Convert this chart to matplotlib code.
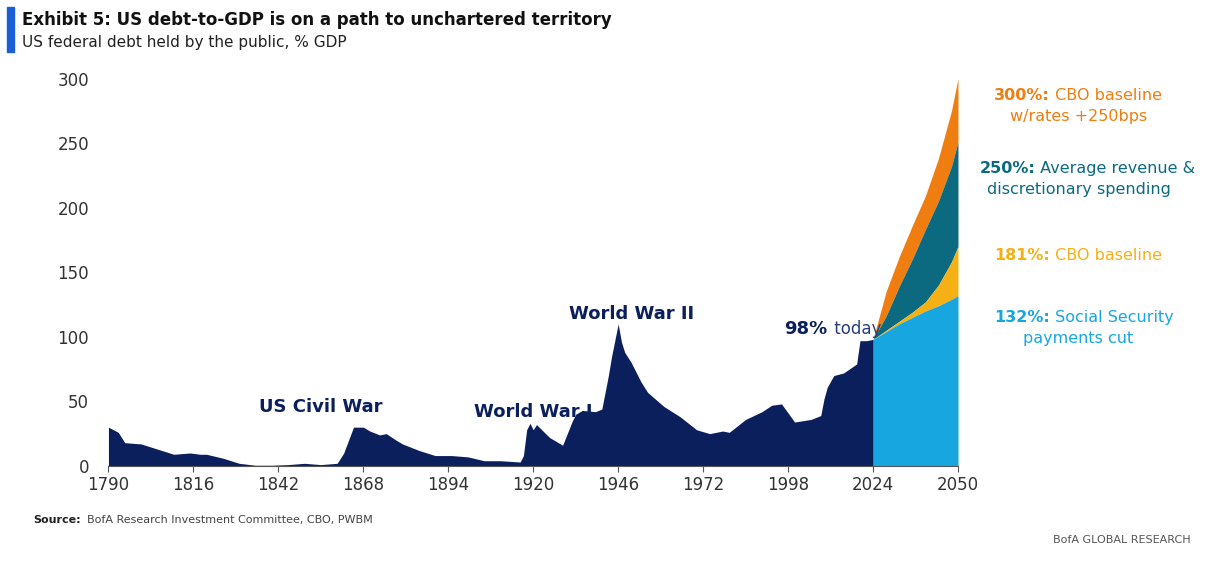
import matplotlib
matplotlib.use("Agg")
import matplotlib.pyplot as plt
import numpy as np

hist_years = [1790,1793,1795,1800,1805,1810,1815,1818,1820,1825,1830,1835,1840,1845,1850,1855,1860,1862,1865,1868,1870,1873,1875,1878,1880,1885,1890,1895,1900,1905,1910,1916,1917,1918,1919,1920,1921,1925,1929,1932,1933,1935,1939,1941,1943,1944,1946,1947,1948,1950,1953,1955,1960,1965,1970,1974,1978,1980,1985,1990,1993,1996,2000,2005,2008,2009,2010,2012,2015,2019,2020,2022,2024]
hist_vals = [30,26,18,17,13,9,10,9,9,6,2,0.5,0.5,1,2,1,2,10,30,30,27,24,25,20,17,12,8,8,7,4,4,3,8,28,33,28,32,22,16,35,40,43,42,44,70,85,110,96,88,80,65,57,46,38,28,25,27,26,36,42,47,48,34,36,39,52,61,70,72,79,97,97,98]

proj_years = [2024,2028,2032,2036,2040,2044,2048,2050]
ss_cut = [98,104,110,115,120,124,129,132]
cbo_base = [98,105,112,119,127,140,158,170]
avg_rev = [98,116,139,160,183,205,232,251]
rates250 = [98,135,162,186,209,238,275,300]

navy = "#0a1f5c"; lblue = "#17a6e0"; yellow = "#f5b014"; teal = "#0b6a80"; orange = "#ef7d10"

fig = plt.figure(figsize=(12.05,5.62), dpi=100)
ax = fig.add_axes([0.09, 0.171, 0.705, 0.689])
ax.fill_between(proj_years, avg_rev, rates250, color=orange, lw=0)
ax.fill_between(proj_years, cbo_base, avg_rev, color=teal, lw=0)
ax.fill_between(proj_years, ss_cut, cbo_base, color=yellow, lw=0)
ax.fill_between(proj_years, 0, ss_cut, color=lblue, lw=0)
ax.fill_between(hist_years, 0, hist_vals, color=navy, lw=0)

ax.set_xlim(1790, 2050)
ax.set_ylim(0, 300)
ax.set_xticks(range(1790, 2051, 26))
ax.set_yticks(range(0, 301, 50))
for s in ["top","right","left"]:
    ax.spines[s].set_visible(False)
ax.spines["bottom"].set_color("#555555")
ax.tick_params(axis="y", length=0, pad=14, labelsize=12, colors="#333333")
ax.tick_params(axis="x", length=4, labelsize=12, colors="#333333", color="#555555")

kw = dict(color=navy, fontsize=13, fontweight="bold", ha="center")
ax.text(1855, 42, "US Civil War", **kw)
ax.text(1920, 38, "World War I", **kw)
ax.text(1950, 114, "World War II", **kw)
ax.text(2010, 102, "98%", color=navy, fontsize=13, fontweight="bold", ha="right")
ax.text(2010.5, 102, " today", color="#2a3f7a", fontsize=12, ha="left")

def lab(y, bold, rest, rest2, col):
    fig.text(0.9, y, "", ha="center")
    t = fig.text(0.885, y, bold + " " + rest, color=col, fontsize=11.5, ha="center", va="center")
    t2 = fig.text(0.885, y - 0.038, rest2, color=col, fontsize=11.5, ha="center", va="center")
    return t

def label2(x0, y, bold, rest, rest2, col):
    fig.text(x0, y, bold, color=col, fontsize=11.5, fontweight="bold", ha="right", va="center")
    fig.text(x0, y, rest, color=col, fontsize=11.5, ha="left", va="center")
    if rest2:
        fig.text(0.895, y - 0.038, rest2, color=col, fontsize=11.5, ha="center", va="center")

label2(0.871, 0.830, "300%:", " CBO baseline", "w/rates +250bps", orange)
label2(0.859, 0.700, "250%:", " Average revenue &", "discretionary spending", teal)
label2(0.871, 0.545, "181%:", " CBO baseline", None, yellow)
label2(0.871, 0.435, "132%:", " Social Security", "payments cut", lblue)

fig.add_artist(plt.Rectangle((0.006, 0.908), 0.006, 0.08, color="#1a5ed8", transform=fig.transFigure))
fig.text(0.018, 0.965, "Exhibit 5: US debt-to-GDP is on a path to unchartered territory", fontsize=12, fontweight="bold", color="#111111", va="center")
fig.text(0.018, 0.925, "US federal debt held by the public, % GDP", fontsize=11, color="#222222", va="center")
fig.text(0.028, 0.075, "Source:", fontsize=8, fontweight="bold", color="#222222", va="center")
fig.text(0.072, 0.075, "BofA Research Investment Committee, CBO, PWBM", fontsize=8, color="#444444", va="center")
fig.text(0.988, 0.040, "BofA GLOBAL RESEARCH", fontsize=8, color="#555555", ha="right", va="center")

fig.savefig("out.png", dpi=100)
